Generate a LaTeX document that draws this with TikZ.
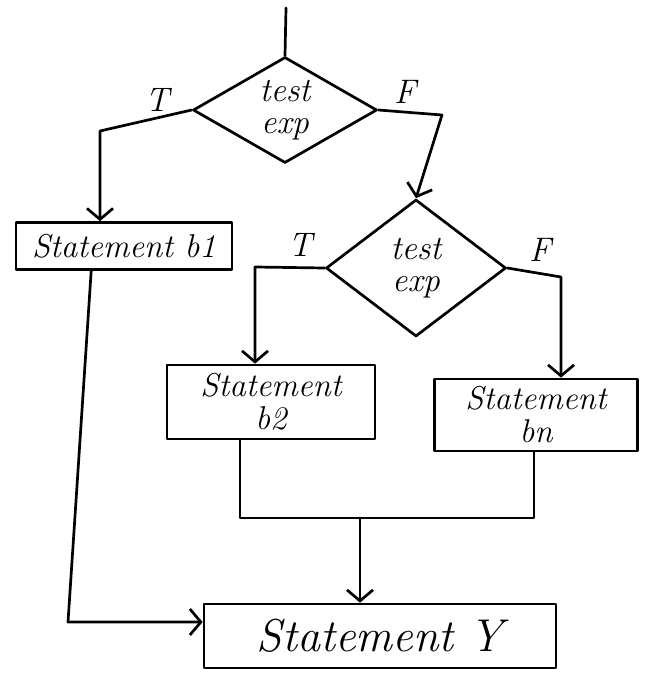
\documentclass[tikz,border=0pt]{standalone}
\usepackage{tikz}
\usetikzlibrary{shapes.geometric,arrows.meta,calc}
\begin{document}
\begin{tikzpicture}[x=1pt,y=-1pt,
  line width=2.7pt, line join=round, line cap=round,
  flow/.style={-{Straight Barb[length=11pt,width=26pt]}},
  decision/.style={draw, shape=diamond, inner sep=0pt, align=center,
    font=\fontsize{34}{32}\selectfont\itshape},
  stmt/.style={draw, rectangle, inner sep=0pt, align=center},
  lbl/.style={font=\fontsize{34}{34}\selectfont\itshape}
]
\useasboundingbox (0,0) rectangle (646,675);

% decisions
\node[decision, minimum width=184pt, minimum height=106pt, aspect=1.75] (d1) at (285,110) {test\\exp};
\node[decision, minimum width=180pt, minimum height=137pt, aspect=1.3] (d2) at (416,268) {test\\exp};

% statements
\node[stmt, minimum width=216pt, minimum height=47pt, font=\fontsize{33}{33}\selectfont\itshape] (b1) at (124,246) {Statement b1};
\node[stmt, minimum width=208pt, minimum height=74pt, font=\fontsize{33}{33}\selectfont\itshape] (b2) at (271,402) {Statement\\b2};
\node[stmt, minimum width=203pt, minimum height=72pt, font=\fontsize{33}{33}\selectfont\itshape] (bn) at (536,415) {Statement\\bn};
\node[stmt, minimum width=352pt, minimum height=64pt, font=\fontsize{46}{46}\selectfont\itshape] (yb) at (380,636) {Statement Y};

% branch labels
\node[lbl] (t1) at (157,100) {T};
\node[lbl] (f1) at (405,92) {F};
\node[lbl] (t2) at (300,245) {T};
\node[lbl] (f2) at (540,250) {F};

% connectors
\coordinate (top) at (286,8);
\draw (top) -- (d1.north);

\coordinate (c1) at (100,131);
\draw[flow] (d1.west) -- (c1) -- (c1 |- b1.north);

\coordinate (c2) at (442,115);
\draw[flow] (d1.east) -- (c2) -- (d2.north);

\coordinate (c3) at (255,267);
\draw[flow] (d2.west) -- (c3) -- (c3 |- b2.north);

\coordinate (c4) at (561,277);
\draw[flow] (d2.east) -- (c4) -- (c4 |- bn.north);

\coordinate (m1) at (240,518);
\coordinate (m2) at (534,518);
\draw (m1 |- b2.south) -- (m1) -- (m2) -- (m2 |- bn.south);

\coordinate (m3) at (360,518);
\draw[flow] (m3) -- (m3 |- yb.north);

\coordinate (c5) at (68,622);
\draw[flow] ($(b1.south west)!0.35!(b1.south east)$) -- (c5) -- (c5 -| yb.west);
\end{tikzpicture}
\end{document}
